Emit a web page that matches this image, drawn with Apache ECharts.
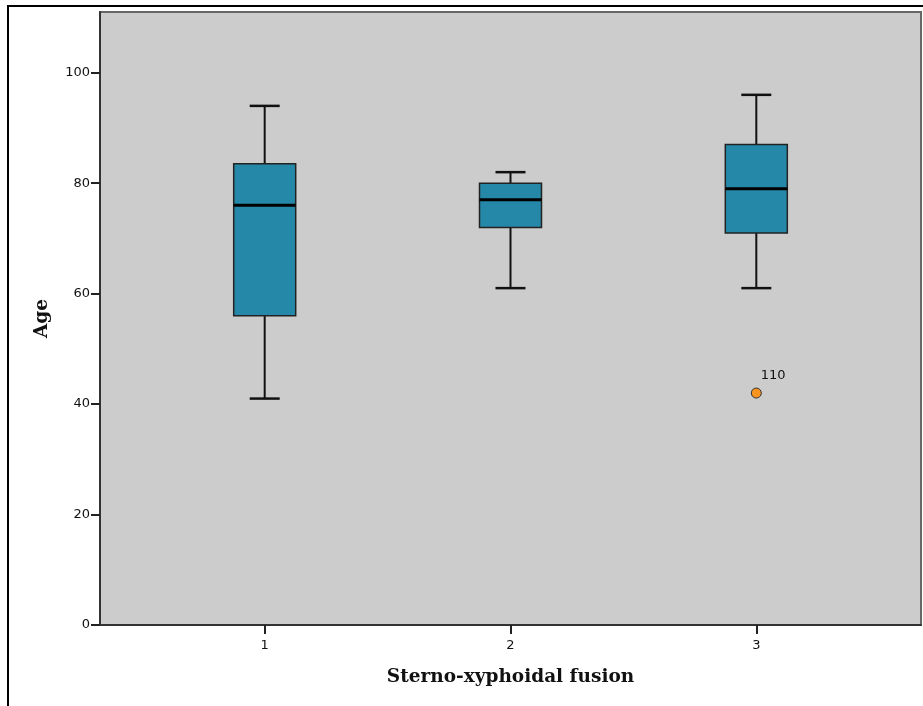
<!DOCTYPE html>
<html lang="en">
<head>
    <meta charset="UTF-8">
    <script src="https://cdn.jsdelivr.net/npm/echarts@6/dist/echarts.min.js"></script>
    <title>Age by sterno-xyphoidal fusion</title>
    <style>
        body { margin: 0; background: #fff; }
        #chart { width: 923px; height: 706px; position: relative; }
        /* outer frame of the exported figure */
        #frame {
            position: absolute; left: 7px; top: 5px; right: 0; bottom: 0;
            border-top: 2px solid #000; border-left: 2px solid #000;
            pointer-events: none;
        }
    </style>
</head>
<body>
    <div id="chart"></div>
    <div id="frame"></div>
    <script>
        // fusion stage (x positions) and five-number summaries
        const stages = [1, 2, 3]
        const whiskerLow = [41, 61, 61]
        const q1 = [56, 72, 71]
        const median = [76, 77, 79]
        const q3 = [83.5, 80, 87]
        const whiskerHigh = [94, 82, 96]

        // outliers
        const outlierX = [3]
        const outlierY = [42]
        const outlierCase = ['110']

        const yTicks = [0, 20, 40, 60, 80, 100]

        const boxRows = stages.map((s, i) => [s, whiskerLow[i], q1[i], median[i], q3[i], whiskerHigh[i]])
        const outlierRows = outlierX.map((x, i) => ({ value: [x, outlierY[i]], name: outlierCase[i] }))

        // box + whiskers, SPSS style (thick median)
        function renderBox(params, api) {
            const x = api.value(0)
            const lo = api.coord([x, api.value(1)])
            const b1 = api.coord([x, api.value(2)])
            const md = api.coord([x, api.value(3)])
            const b3 = api.coord([x, api.value(4)])
            const hi = api.coord([x, api.value(5)])
            const hw = 31   // half box width
            const cw = 15   // half cap width
            return {
                type: 'group',
                children: [
                    { type: 'line', shape: { x1: hi[0], y1: hi[1], x2: lo[0], y2: lo[1] }, style: { stroke: '#111', lineWidth: 2 } },
                    { type: 'line', shape: { x1: hi[0] - cw, y1: hi[1], x2: hi[0] + cw, y2: hi[1] }, style: { stroke: '#111', lineWidth: 2.5 } },
                    { type: 'line', shape: { x1: lo[0] - cw, y1: lo[1], x2: lo[0] + cw, y2: lo[1] }, style: { stroke: '#111', lineWidth: 2.5 } },
                    { type: 'rect', shape: { x: b3[0] - hw, y: b3[1], width: hw * 2, height: b1[1] - b3[1] },
                      style: { fill: '#2688a8', stroke: '#222', lineWidth: 1.5 } },
                    { type: 'line', shape: { x1: md[0] - hw, y1: md[1], x2: md[0] + hw, y2: md[1] }, style: { stroke: '#000', lineWidth: 3 } }
                ]
            }
        }

        const myChart = echarts.init(document.getElementById('chart'))
        const option = {
            animation: false,
            grid: {
                left: 100, top: 12, right: 2, bottom: 81,
                show: true,
                backgroundColor: '#cccccc',
                borderColor: '#666',
                borderWidth: 2
            },
            xAxis: {
                type: 'value',
                min: 0.33,
                max: 3.67,
                name: 'Sterno-xyphoidal fusion',
                nameLocation: 'middle',
                nameGap: 43,
                nameTextStyle: { fontFamily: 'DejaVu Serif', fontWeight: 'bold', fontSize: 18.5, color: '#111' },
                splitLine: { show: false },
                axisLine: { lineStyle: { color: '#333', width: 2 } },
                axisTick: { customValues: stages, length: 9, lineStyle: { color: '#222', width: 2 } },
                axisLabel: { customValues: stages, margin: 14, fontFamily: 'DejaVu Sans', fontSize: 13, color: '#111' }
            },
            yAxis: {
                type: 'value',
                min: 0,
                max: 111,
                interval: 20,
                name: 'Age',
                nameLocation: 'middle',
                nameGap: 48,
                nameRotate: 90,
                nameTextStyle: { fontFamily: 'DejaVu Serif', fontWeight: 'bold', fontSize: 18.5, color: '#111' },
                splitLine: { show: false },
                axisLine: { show: true, lineStyle: { color: '#333', width: 2 } },
                axisTick: { show: true, length: 9, customValues: yTicks, lineStyle: { color: '#222', width: 2 } },
                axisLabel: { customValues: yTicks, margin: 10, fontFamily: 'DejaVu Sans', fontSize: 13, color: '#111' }
            },
            series: [
                {
                    type: 'custom',
                    renderItem: renderBox,
                    encode: { x: 0, y: [1, 2, 3, 4, 5] },
                    data: boxRows,
                    z: 2
                },
                {
                    type: 'scatter',
                    data: outlierRows,
                    symbol: 'circle',
                    symbolSize: 10,
                    itemStyle: { color: '#f7941d', borderColor: '#333', borderWidth: 1, opacity: 1 },
                    label: {
                        show: true,
                        formatter: '{b}',
                        position: [10, -18],
                        align: 'left',
                        verticalAlign: 'top',
                        fontFamily: 'DejaVu Sans',
                        fontSize: 13,
                        color: '#111'
                    },
                    z: 3
                }
            ]
        }
        myChart.setOption(option)
    </script>
</body>
</html>
